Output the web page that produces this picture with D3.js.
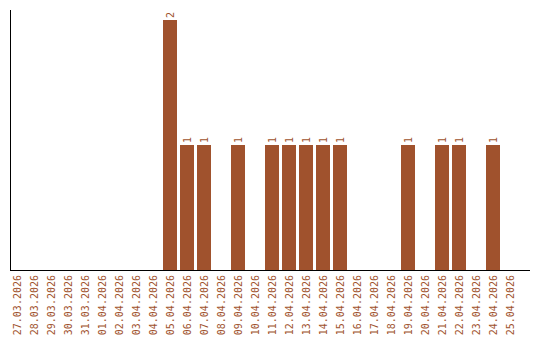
<!DOCTYPE html>
<html>
<head>
<meta charset="utf-8">
<script src="https://cdn.jsdelivr.net/npm/d3@7"></script>
<style>
  body { margin: 0; background: #fff; }
  text { font-family: "DejaVu Sans Mono", monospace; font-size: 10px; fill: #a0522d; }
</style>
</head>
<body>
<svg id="chart" width="540" height="340"></svg>
<script>
const dates = [
  "27.03.2026", "28.03.2026", "29.03.2026", "30.03.2026", "31.03.2026",
  "01.04.2026", "02.04.2026", "03.04.2026", "04.04.2026", "05.04.2026",
  "06.04.2026", "07.04.2026", "08.04.2026", "09.04.2026", "10.04.2026",
  "11.04.2026", "12.04.2026", "13.04.2026", "14.04.2026", "15.04.2026",
  "16.04.2026", "17.04.2026", "18.04.2026", "19.04.2026", "20.04.2026",
  "21.04.2026", "22.04.2026", "23.04.2026", "24.04.2026", "25.04.2026"
];
const counts = [
  0, 0, 0, 0, 0,
  0, 0, 0, 0, 2,
  1, 1, 0, 1, 0,
  1, 1, 1, 1, 1,
  0, 0, 0, 1, 0,
  1, 1, 0, 1, 0
];

const svg = d3.select('#chart');
const plotLeft = 10, plotRight = 530, plotBottom = 270, plotTop = 20;
const barColor = '#a0522d';

const x = d3.scaleBand()
  .domain(dates)
  .range([plotLeft, plotLeft + 17 * 30 - 3])
  .paddingInner(3 / 17)
  .paddingOuter(0);

const y = d3.scaleLinear()
  .domain([0, d3.max(counts)])
  .range([plotBottom, plotTop]);

const rows = dates.map((d, i) => ({ date: d, value: counts[i] }));

// bars
svg.append('g')
  .selectAll('rect')
  .data(rows.filter(r => r.value > 0))
  .enter()
  .append('rect')
  .attr('x', d => x(d.date))
  .attr('y', d => y(d.value))
  .attr('width', x.bandwidth())
  .attr('height', d => plotBottom - y(d.value))
  .attr('fill', barColor)
  .attr('shape-rendering', 'crispEdges');

// value labels above bars, rotated
svg.append('g')
  .selectAll('text')
  .data(rows.filter(r => r.value > 0))
  .enter()
  .append('text')
  .attr('transform', d => 'translate(' + (x(d.date) + x.bandwidth() / 2 + 3.5) + ',' + (y(d.value) - 2) + ')rotate(-90)')
  .attr('text-anchor', 'start')
  .text(d => d.value);

// axis lines
svg.append('line')
  .attr('x1', plotLeft + 0.5).attr('x2', plotLeft + 0.5)
  .attr('y1', 10).attr('y2', plotBottom)
  .attr('stroke', '#000').attr('stroke-width', 1);
svg.append('line')
  .attr('x1', plotLeft).attr('x2', plotRight)
  .attr('y1', plotBottom + 0.5).attr('y2', plotBottom + 0.5)
  .attr('stroke', '#000').attr('stroke-width', 1);

// category labels
const xAxis = svg.append('g')
  .attr('transform', 'translate(0,' + plotBottom + ')')
  .call(d3.axisBottom(x).tickSize(0).tickPadding(0));
xAxis.select('.domain').remove();
xAxis.selectAll('text')
  .attr('transform', 'rotate(-90)')
  .attr('x', -5)
  .attr('y', 0)
  .attr('dy', '0.35em')
  .style('text-anchor', 'end')
  .style('font-family', '"DejaVu Sans Mono", monospace')
  .style('font-size', '10px')
  .attr('fill', barColor);
</script>
</body>
</html>
